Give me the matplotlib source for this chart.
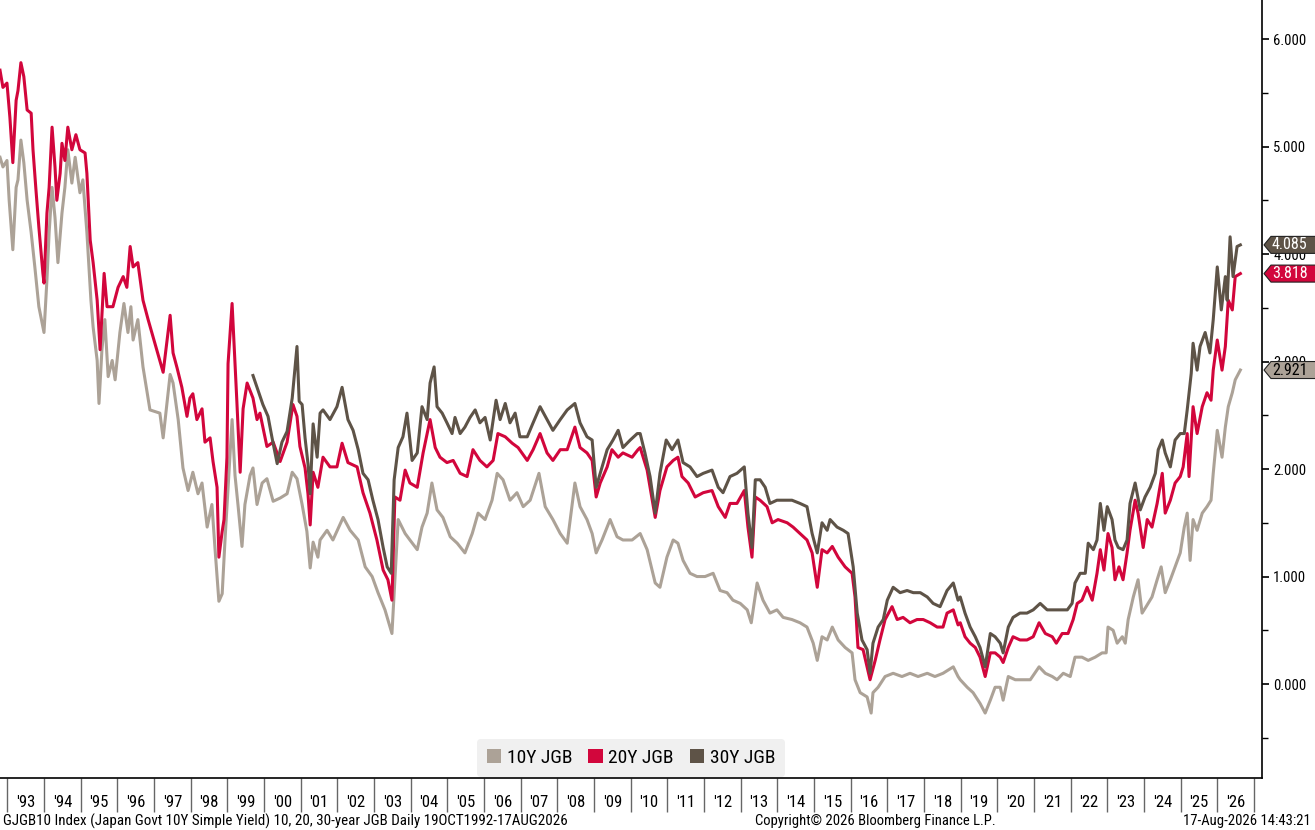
import matplotlib.pyplot as plt
import numpy as np
from matplotlib.patches import Polygon, Patch

plt.rcParams['font.family'] = ['Roboto Condensed', 'Liberation Sans', 'DejaVu Sans']

# -------------------------- data (decimal years) --------------------------
t_10y = [1992.80, 1992.88, 1992.99, 1993.05, 1993.15, 1993.24, 1993.29, 1993.37, 1993.45, 1993.54,
         1993.65, 1993.75, 1993.86, 1994.00, 1994.08, 1994.14, 1994.22, 1994.30, 1994.38, 1994.49,
         1994.57, 1994.65, 1994.76, 1994.85, 1994.98, 1995.06, 1995.17, 1995.28, 1995.34, 1995.45,
         1995.50, 1995.58, 1995.66, 1995.75, 1995.86, 1995.94, 1996.07, 1996.18, 1996.29, 1996.37,
         1996.43, 1996.56, 1996.70, 1996.89, 1997.16, 1997.25, 1997.44, 1997.52, 1997.66, 1997.79,
         1997.93, 1998.06, 1998.20, 1998.31, 1998.45, 1998.58, 1998.66, 1998.77, 1998.86, 1998.94,
         1999.07, 1999.13, 1999.21, 1999.29, 1999.40, 1999.48, 1999.62, 1999.70, 1999.81, 1999.95,
         2000.08, 2000.25, 2000.44, 2000.63, 2000.77, 2000.90, 2001.04, 2001.17, 2001.26, 2001.34,
         2001.47, 2001.53, 2001.72, 2001.88, 2002.16, 2002.35, 2002.57, 2002.76, 2002.95, 2003.11,
         2003.30, 2003.49, 2003.57, 2003.66, 2003.85, 2003.98, 2004.18, 2004.31, 2004.45, 2004.58,
         2004.72, 2004.88, 2005.08, 2005.27, 2005.48, 2005.68, 2005.84, 2006.03, 2006.22, 2006.36,
         2006.52, 2006.71, 2006.90, 2007.07, 2007.26, 2007.50, 2007.67, 2007.88, 2008.08, 2008.27,
         2008.48, 2008.62, 2008.81, 2008.95, 2009.06, 2009.22, 2009.44, 2009.63, 2009.79, 2010.04,
         2010.26, 2010.45, 2010.67, 2010.80, 2010.99, 2011.16, 2011.29, 2011.43, 2011.62, 2011.81,
         2012.03, 2012.25, 2012.44, 2012.63, 2012.79, 2012.99, 2013.18, 2013.29, 2013.45, 2013.61,
         2013.80, 2013.99, 2014.16, 2014.40, 2014.62, 2014.81, 2014.98, 2015.09, 2015.22, 2015.36,
         2015.50, 2015.66, 2015.85, 2016.04, 2016.12, 2016.26, 2016.45, 2016.56, 2016.61, 2016.75,
         2016.94, 2017.16, 2017.40, 2017.62, 2017.84, 2018.09, 2018.30, 2018.52, 2018.80, 2018.93,
         2018.99, 2019.18, 2019.34, 2019.53, 2019.67, 2019.81, 2019.94, 2020.08, 2020.16, 2020.30,
         2020.49, 2020.68, 2020.90, 2021.14, 2021.31, 2021.50, 2021.63, 2021.80, 2021.99, 2022.12,
         2022.31, 2022.48, 2022.67, 2022.86, 2022.97, 2023.02, 2023.16, 2023.27, 2023.41, 2023.49,
         2023.57, 2023.71, 2023.84, 2023.95, 2024.06, 2024.22, 2024.36, 2024.47, 2024.58, 2024.72,
         2024.85, 2024.99, 2025.10, 2025.18, 2025.26, 2025.34, 2025.45, 2025.59, 2025.72, 2025.83,
         2025.89, 2026.00, 2026.13, 2026.22, 2026.30, 2026.41, 2026.49, 2026.63]
y_10y = [4.90, 4.81, 4.87, 4.50, 4.04, 4.62, 4.69, 5.06, 4.85, 4.50,
         4.20, 3.88, 3.51, 3.27, 3.76, 4.20, 4.62, 4.34, 3.92, 4.38,
         4.62, 4.97, 4.66, 4.90, 4.57, 4.69, 4.20, 3.57, 3.32, 3.01,
         2.61, 3.11, 3.39, 2.86, 3.01, 2.83, 3.27, 3.54, 3.27, 3.51,
         3.20, 3.39, 2.95, 2.55, 2.52, 2.29, 2.88, 2.80, 2.46, 2.01,
         1.80, 1.97, 1.77, 1.87, 1.46, 1.67, 1.28, 0.77, 0.84, 1.36,
         2.11, 2.46, 1.94, 1.67, 1.28, 1.67, 1.94, 2.01, 1.67, 1.87,
         1.91, 1.70, 1.73, 1.77, 1.97, 1.91, 1.67, 1.42, 1.08, 1.32,
         1.18, 1.34, 1.43, 1.34, 1.55, 1.43, 1.34, 1.09, 1.00, 0.85,
         0.69, 0.47, 0.97, 1.53, 1.40, 1.34, 1.25, 1.46, 1.59, 1.87,
         1.62, 1.55, 1.37, 1.31, 1.22, 1.40, 1.59, 1.53, 1.71, 1.96,
         1.90, 1.71, 1.78, 1.65, 1.71, 1.96, 1.65, 1.53, 1.40, 1.31,
         1.87, 1.65, 1.53, 1.40, 1.22, 1.34, 1.53, 1.37, 1.34, 1.34,
         1.40, 1.25, 0.94, 0.90, 1.18, 1.34, 1.31, 1.15, 1.03, 1.00,
         1.00, 1.03, 0.87, 0.85, 0.78, 0.75, 0.69, 0.57, 0.94, 0.78,
         0.66, 0.69, 0.62, 0.60, 0.57, 0.53, 0.38, 0.22, 0.44, 0.41,
         0.53, 0.41, 0.34, 0.29, 0.04, -0.08, -0.12, -0.27, -0.08, -0.03,
         0.07, 0.10, 0.07, 0.10, 0.07, 0.10, 0.07, 0.10, 0.16, 0.07,
         0.04, -0.03, -0.08, -0.18, -0.27, -0.15, -0.03, -0.03, -0.15, 0.07,
         0.04, 0.04, 0.04, 0.16, 0.10, 0.07, 0.04, 0.10, 0.07, 0.25,
         0.25, 0.22, 0.25, 0.29, 0.29, 0.53, 0.50, 0.38, 0.44, 0.38,
         0.60, 0.81, 0.97, 0.66, 0.72, 0.81, 0.97, 1.09, 0.85, 0.97,
         1.09, 1.22, 1.46, 1.59, 1.15, 1.53, 1.43, 1.59, 1.65, 1.71,
         1.96, 2.36, 2.11, 2.39, 2.58, 2.71, 2.83, 2.921]

t_20y = [1992.80, 1992.88, 1992.99, 1993.07, 1993.15, 1993.24, 1993.29, 1993.37, 1993.45, 1993.54,
         1993.65, 1993.70, 1993.78, 1993.86, 1993.97, 1994.00, 1994.08, 1994.14, 1994.22, 1994.30,
         1994.35, 1994.44, 1994.49, 1994.57, 1994.65, 1994.76, 1994.87, 1994.98, 1995.12, 1995.17,
         1995.26, 1995.34, 1995.45, 1995.53, 1995.64, 1995.72, 1995.88, 1996.02, 1996.16, 1996.26,
         1996.35, 1996.43, 1996.56, 1996.70, 1996.84, 1997.25, 1997.44, 1997.52, 1997.63, 1997.76,
         1997.90, 1997.98, 1998.06, 1998.17, 1998.31, 1998.39, 1998.53, 1998.61, 1998.72, 1998.77,
         1998.86, 1998.91, 1998.99, 1999.02, 1999.13, 1999.21, 1999.26, 1999.35, 1999.43, 1999.54,
         1999.62, 1999.70, 1999.81, 1999.89, 2000.08, 2000.25, 2000.44, 2000.63, 2000.79, 2000.90,
         2000.98, 2001.12, 2001.20, 2001.26, 2001.34, 2001.47, 2001.61, 2001.80, 2001.99, 2002.13,
         2002.29, 2002.54, 2002.70, 2002.89, 2003.08, 2003.25, 2003.38, 2003.49, 2003.57, 2003.71,
         2003.85, 2003.98, 2004.18, 2004.34, 2004.53, 2004.67, 2004.80, 2004.99, 2005.16, 2005.35,
         2005.54, 2005.70, 2005.89, 2006.08, 2006.25, 2006.38, 2006.58, 2006.77, 2006.93, 2007.18,
         2007.34, 2007.53, 2007.72, 2007.88, 2008.08, 2008.27, 2008.48, 2008.62, 2008.81, 2008.95,
         2009.06, 2009.17, 2009.36, 2009.49, 2009.66, 2009.79, 2010.04, 2010.20, 2010.26, 2010.45,
         2010.67, 2010.80, 2010.99, 2011.16, 2011.29, 2011.40, 2011.57, 2011.76, 2011.98, 2012.22,
         2012.39, 2012.58, 2012.71, 2012.90, 2013.10, 2013.20, 2013.31, 2013.40, 2013.53, 2013.72,
         2013.86, 2014.02, 2014.27, 2014.43, 2014.62, 2014.81, 2014.95, 2015.09, 2015.22, 2015.36,
         2015.50, 2015.66, 2015.85, 2016.04, 2016.12, 2016.20, 2016.34, 2016.53, 2016.67, 2016.80,
         2016.94, 2017.13, 2017.27, 2017.43, 2017.62, 2017.81, 2017.98, 2018.17, 2018.36, 2018.52,
         2018.63, 2018.80, 2018.93, 2018.99, 2019.12, 2019.26, 2019.40, 2019.53, 2019.67, 2019.81,
         2019.94, 2020.08, 2020.16, 2020.30, 2020.43, 2020.62, 2020.81, 2020.98, 2021.14, 2021.31,
         2021.50, 2021.61, 2021.77, 2021.93, 2022.07, 2022.18, 2022.31, 2022.45, 2022.59, 2022.72,
         2022.81, 2022.91, 2023.02, 2023.13, 2023.21, 2023.32, 2023.43, 2023.54, 2023.62, 2023.76,
         2023.84, 2023.98, 2024.09, 2024.22, 2024.36, 2024.50, 2024.58, 2024.72, 2024.85, 2024.99,
         2025.07, 2025.18, 2025.23, 2025.34, 2025.45, 2025.59, 2025.72, 2025.83, 2025.89, 2026.00,
         2026.13, 2026.22, 2026.30, 2026.41, 2026.49, 2026.63]
y_20y = [5.71, 5.55, 5.59, 5.27, 4.85, 5.43, 5.52, 5.78, 5.65, 5.34,
         5.31, 4.97, 4.60, 4.25, 3.82, 3.73, 4.38, 4.62, 5.18, 4.81,
         4.50, 4.75, 5.03, 4.87, 5.18, 4.97, 5.11, 4.97, 4.94, 4.75,
         4.13, 3.92, 3.57, 3.11, 3.82, 3.51, 3.51, 3.69, 3.79, 3.69,
         4.07, 3.88, 3.92, 3.57, 3.39, 2.90, 3.43, 3.08, 2.94, 2.76,
         2.49, 2.66, 2.70, 2.46, 2.56, 2.25, 2.29, 2.07, 1.83, 1.18,
         1.42, 1.53, 2.11, 2.98, 3.54, 2.98, 2.63, 1.97, 2.56, 2.80,
         2.73, 2.66, 2.46, 2.52, 2.21, 2.25, 2.07, 2.25, 2.60, 2.49,
         2.21, 2.01, 1.77, 1.48, 1.97, 1.83, 2.11, 2.02, 2.02, 2.24,
         2.06, 2.02, 1.78, 1.59, 1.34, 1.06, 0.97, 0.78, 1.74, 1.71,
         1.99, 1.87, 1.83, 2.15, 2.46, 2.20, 2.11, 2.06, 2.08, 1.96,
         1.93, 2.18, 2.08, 2.02, 2.08, 2.33, 2.30, 2.24, 2.20, 2.08,
         2.18, 2.33, 2.15, 2.08, 2.18, 2.18, 2.39, 2.20, 2.15, 2.08,
         1.74, 1.87, 2.02, 2.18, 2.11, 2.15, 2.11, 2.18, 2.20, 1.99,
         1.55, 1.80, 2.02, 2.08, 2.11, 1.93, 1.87, 1.74, 1.78, 1.80,
         1.65, 1.55, 1.68, 1.68, 1.80, 1.46, 1.18, 1.74, 1.71, 1.65,
         1.50, 1.53, 1.50, 1.46, 1.40, 1.34, 1.22, 0.90, 1.25, 1.22,
         1.28, 1.18, 1.09, 1.03, 0.81, 0.34, 0.32, 0.04, 0.22, 0.41,
         0.60, 0.72, 0.60, 0.62, 0.57, 0.60, 0.60, 0.57, 0.53, 0.53,
         0.66, 0.69, 0.55, 0.57, 0.44, 0.38, 0.34, 0.25, 0.07, 0.29,
         0.29, 0.25, 0.20, 0.34, 0.44, 0.41, 0.41, 0.44, 0.57, 0.47,
         0.44, 0.38, 0.47, 0.47, 0.60, 0.75, 0.78, 0.90, 0.78, 1.03,
         1.25, 1.06, 1.40, 1.27, 0.97, 1.09, 0.97, 1.22, 1.43, 1.71,
         1.59, 1.27, 1.53, 1.46, 1.68, 1.96, 1.59, 1.71, 1.87, 1.93,
         2.02, 2.33, 1.93, 2.58, 2.33, 2.58, 2.71, 2.64, 2.92, 3.20,
         2.92, 3.14, 3.57, 3.48, 3.79, 3.818]

t_30y = [1999.70, 1999.84, 1999.97, 2000.11, 2000.22, 2000.36, 2000.49, 2000.63, 2000.77, 2000.90,
         2000.96, 2001.04, 2001.12, 2001.20, 2001.26, 2001.34, 2001.45, 2001.53, 2001.61, 2001.80,
         2001.99, 2002.13, 2002.29, 2002.43, 2002.57, 2002.70, 2002.84, 2002.97, 2003.11, 2003.25,
         2003.36, 2003.47, 2003.55, 2003.66, 2003.79, 2003.90, 2004.04, 2004.18, 2004.31, 2004.45,
         2004.53, 2004.64, 2004.72, 2004.86, 2004.99, 2005.13, 2005.21, 2005.35, 2005.48, 2005.62,
         2005.76, 2005.89, 2006.03, 2006.17, 2006.33, 2006.44, 2006.58, 2006.71, 2006.85, 2006.98,
         2007.18, 2007.34, 2007.53, 2007.72, 2007.88, 2008.08, 2008.27, 2008.48, 2008.62, 2008.81,
         2008.95, 2009.06, 2009.17, 2009.36, 2009.52, 2009.66, 2009.79, 2009.99, 2010.18, 2010.26,
         2010.39, 2010.53, 2010.67, 2010.80, 2010.97, 2011.13, 2011.29, 2011.43, 2011.62, 2011.81,
         2011.98, 2012.22, 2012.39, 2012.52, 2012.71, 2012.90, 2013.10, 2013.20, 2013.31, 2013.40,
         2013.53, 2013.67, 2013.80, 2013.99, 2014.16, 2014.40, 2014.62, 2014.81, 2014.95, 2015.09,
         2015.22, 2015.36, 2015.44, 2015.63, 2015.80, 2015.93, 2016.07, 2016.18, 2016.31, 2016.45,
         2016.53, 2016.61, 2016.75, 2016.89, 2017.00, 2017.16, 2017.35, 2017.54, 2017.71, 2017.90,
         2018.09, 2018.25, 2018.44, 2018.63, 2018.80, 2018.93, 2018.99, 2019.12, 2019.26, 2019.40,
         2019.53, 2019.67, 2019.81, 2019.94, 2020.08, 2020.16, 2020.30, 2020.43, 2020.62, 2020.81,
         2020.98, 2021.17, 2021.36, 2021.52, 2021.71, 2021.91, 2022.04, 2022.12, 2022.26, 2022.40,
         2022.48, 2022.62, 2022.72, 2022.81, 2022.91, 2023.00, 2023.13, 2023.21, 2023.30, 2023.43,
         2023.54, 2023.62, 2023.76, 2023.90, 2024.03, 2024.17, 2024.31, 2024.39, 2024.50, 2024.58,
         2024.72, 2024.85, 2024.99, 2025.10, 2025.18, 2025.29, 2025.34, 2025.45, 2025.53, 2025.67,
         2025.80, 2025.89, 2026.00, 2026.11, 2026.22, 2026.27, 2026.35, 2026.43, 2026.54, 2026.63]
y_30y = [2.87, 2.73, 2.60, 2.49, 2.29, 2.05, 2.25, 2.35, 2.66, 3.14,
         2.63, 2.60, 2.29, 2.05, 1.77, 2.42, 2.11, 2.52, 2.55, 2.46,
         2.58, 2.76, 2.46, 2.36, 2.18, 1.96, 1.90, 1.71, 1.53, 1.27,
         1.09, 1.03, 1.90, 2.20, 2.30, 2.52, 2.08, 2.15, 2.58, 2.46,
         2.80, 2.95, 2.58, 2.52, 2.43, 2.33, 2.48, 2.33, 2.39, 2.48,
         2.55, 2.43, 2.48, 2.27, 2.64, 2.46, 2.61, 2.43, 2.52, 2.30,
         2.30, 2.43, 2.58, 2.46, 2.36, 2.46, 2.55, 2.61, 2.43, 2.30,
         2.27, 1.83, 1.96, 2.18, 2.27, 2.36, 2.20, 2.27, 2.33, 2.33,
         2.15, 1.93, 1.59, 1.96, 2.27, 2.18, 2.27, 2.06, 2.02, 1.93,
         1.96, 1.99, 1.83, 1.78, 1.93, 1.96, 2.02, 1.59, 1.27, 1.90,
         1.90, 1.83, 1.68, 1.71, 1.71, 1.71, 1.68, 1.65, 1.40, 1.22,
         1.50, 1.43, 1.53, 1.46, 1.43, 1.40, 1.09, 0.66, 0.41, 0.32,
         0.10, 0.38, 0.53, 0.60, 0.78, 0.90, 0.85, 0.87, 0.85, 0.85,
         0.81, 0.75, 0.72, 0.87, 0.94, 0.78, 0.81, 0.66, 0.53, 0.44,
         0.34, 0.16, 0.47, 0.44, 0.38, 0.29, 0.53, 0.62, 0.66, 0.66,
         0.69, 0.75, 0.69, 0.69, 0.69, 0.69, 0.75, 0.94, 1.03, 1.03,
         1.31, 1.25, 1.34, 1.68, 1.43, 1.65, 1.53, 1.34, 1.27, 1.25,
         1.34, 1.68, 1.87, 1.62, 1.74, 1.83, 1.96, 2.18, 2.27, 2.15,
         2.02, 2.27, 2.33, 2.33, 2.55, 2.89, 3.17, 2.92, 3.14, 3.27,
         3.08, 3.39, 3.88, 3.48, 3.79, 3.57, 4.16, 3.79, 4.07, 4.085]

series_labels = ['10Y JGB', '20Y JGB', '30Y JGB']
series_colors = ['#aca297', '#d2063c', '#5e5347']
tag_text_colors = ['black', 'white', 'white']

# -------------------------- figure / axes --------------------------
W, H = 1315, 830
fig = plt.figure(figsize=(W / 100, H / 100), dpi=100)
ax = fig.add_axes([0, 52 / H, 1262 / W, 778 / H])

ax.set_xlim(1992.80, 2027.22)
ax.set_ylim(-0.874, 6.363)

for t, y, c in zip([t_10y, t_20y, t_30y], [y_10y, y_20y, y_30y], series_colors):
    ax.plot(t, y, color=c, linewidth=2.2)

# spines
for s in ['top', 'left']:
    ax.spines[s].set_visible(False)
for s in ['right', 'bottom']:
    ax.spines[s].set_color('black')
    ax.spines[s].set_linewidth(1.2)

# y axis on the right
ax.yaxis.tick_right()
ax.set_yticks(np.arange(0, 7, 1))
ax.set_yticklabels([f'{v:.3f}' for v in range(0, 7)])
ax.set_yticks(np.arange(-0.5, 6.5, 1), minor=True)
ax.tick_params(axis='y', which='major', direction='out', length=5, width=1.2,
               labelsize=10.5, pad=3, colors='black')
ax.tick_params(axis='y', which='minor', direction='out', length=4, width=1)

# x axis: year separators + centred labels
years = np.arange(1993, 2027)
ax.set_xticks(np.arange(1993, 2028))
ax.set_xticklabels([])
ax.set_xticks(years + 0.5, minor=True)
ax.set_xticklabels([f"'{y % 100:02d}" for y in years], minor=True)
ax.tick_params(axis='x', which='major', direction='out', length=24.5, width=1, color='#666666')
ax.tick_params(axis='x', which='minor', length=0, pad=12, labelsize=12)

# -------------------------- last value tags --------------------------
px_x = 1 / 1262
px_y = (6.363 + 0.874) / 778
last_vals = [y_10y[-1], y_20y[-1], y_30y[-1]]
for v, c, tc in zip(last_vals, series_colors, tag_text_colors):
    h = 8.5 * px_y
    pts = [(1 + 2 * px_x, v), (1 + 9 * px_x, v + h), (1 + 60 * px_x, v + h),
           (1 + 60 * px_x, v - h), (1 + 9 * px_x, v - h)]
    poly = Polygon(pts, closed=True, facecolor=c, edgecolor='#222222', linewidth=0.8,
                   transform=ax.get_yaxis_transform(), clip_on=False, zorder=6)
    ax.add_patch(poly)
    ax.text(1 + 10 * px_x, v, f'{v:.3f}', transform=ax.get_yaxis_transform(),
            ha='left', va='center', fontsize=11.5, color=tc, zorder=7, clip_on=False)

# -------------------------- legend --------------------------
handles = [Patch(facecolor=c, edgecolor='none') for c in series_colors]
leg = fig.legend(handles, series_labels, loc='center', bbox_to_anchor=(631 / W, 1 - 758 / H),
                 ncol=3, frameon=True, facecolor='#f0f0f0', edgecolor='none', fontsize=14,
                 handlelength=0.75, handleheight=0.75, handletextpad=0.3, columnspacing=0.8,
                 borderpad=0.5, fancybox=True, framealpha=1)

# -------------------------- footer --------------------------
fig.text(3 / W, 1 - 821 / H,
         'GJGB10 Index (Japan Govt 10Y Simple Yield) 10, 20, 30-year JGB Daily 19OCT1992-17AUG2026',
         ha='left', va='center', fontsize=10.8)
fig.text(875 / W, 1 - 821 / H, 'Copyright\u00a9 2026 Bloomberg Finance L.P.',
         ha='center', va='center', fontsize=10.5)
fig.text(1311 / W, 1 - 821 / H, '17-Aug-2026 14:43:21', ha='right', va='center', fontsize=10.5)

fig.savefig('out.png', dpi=100)
